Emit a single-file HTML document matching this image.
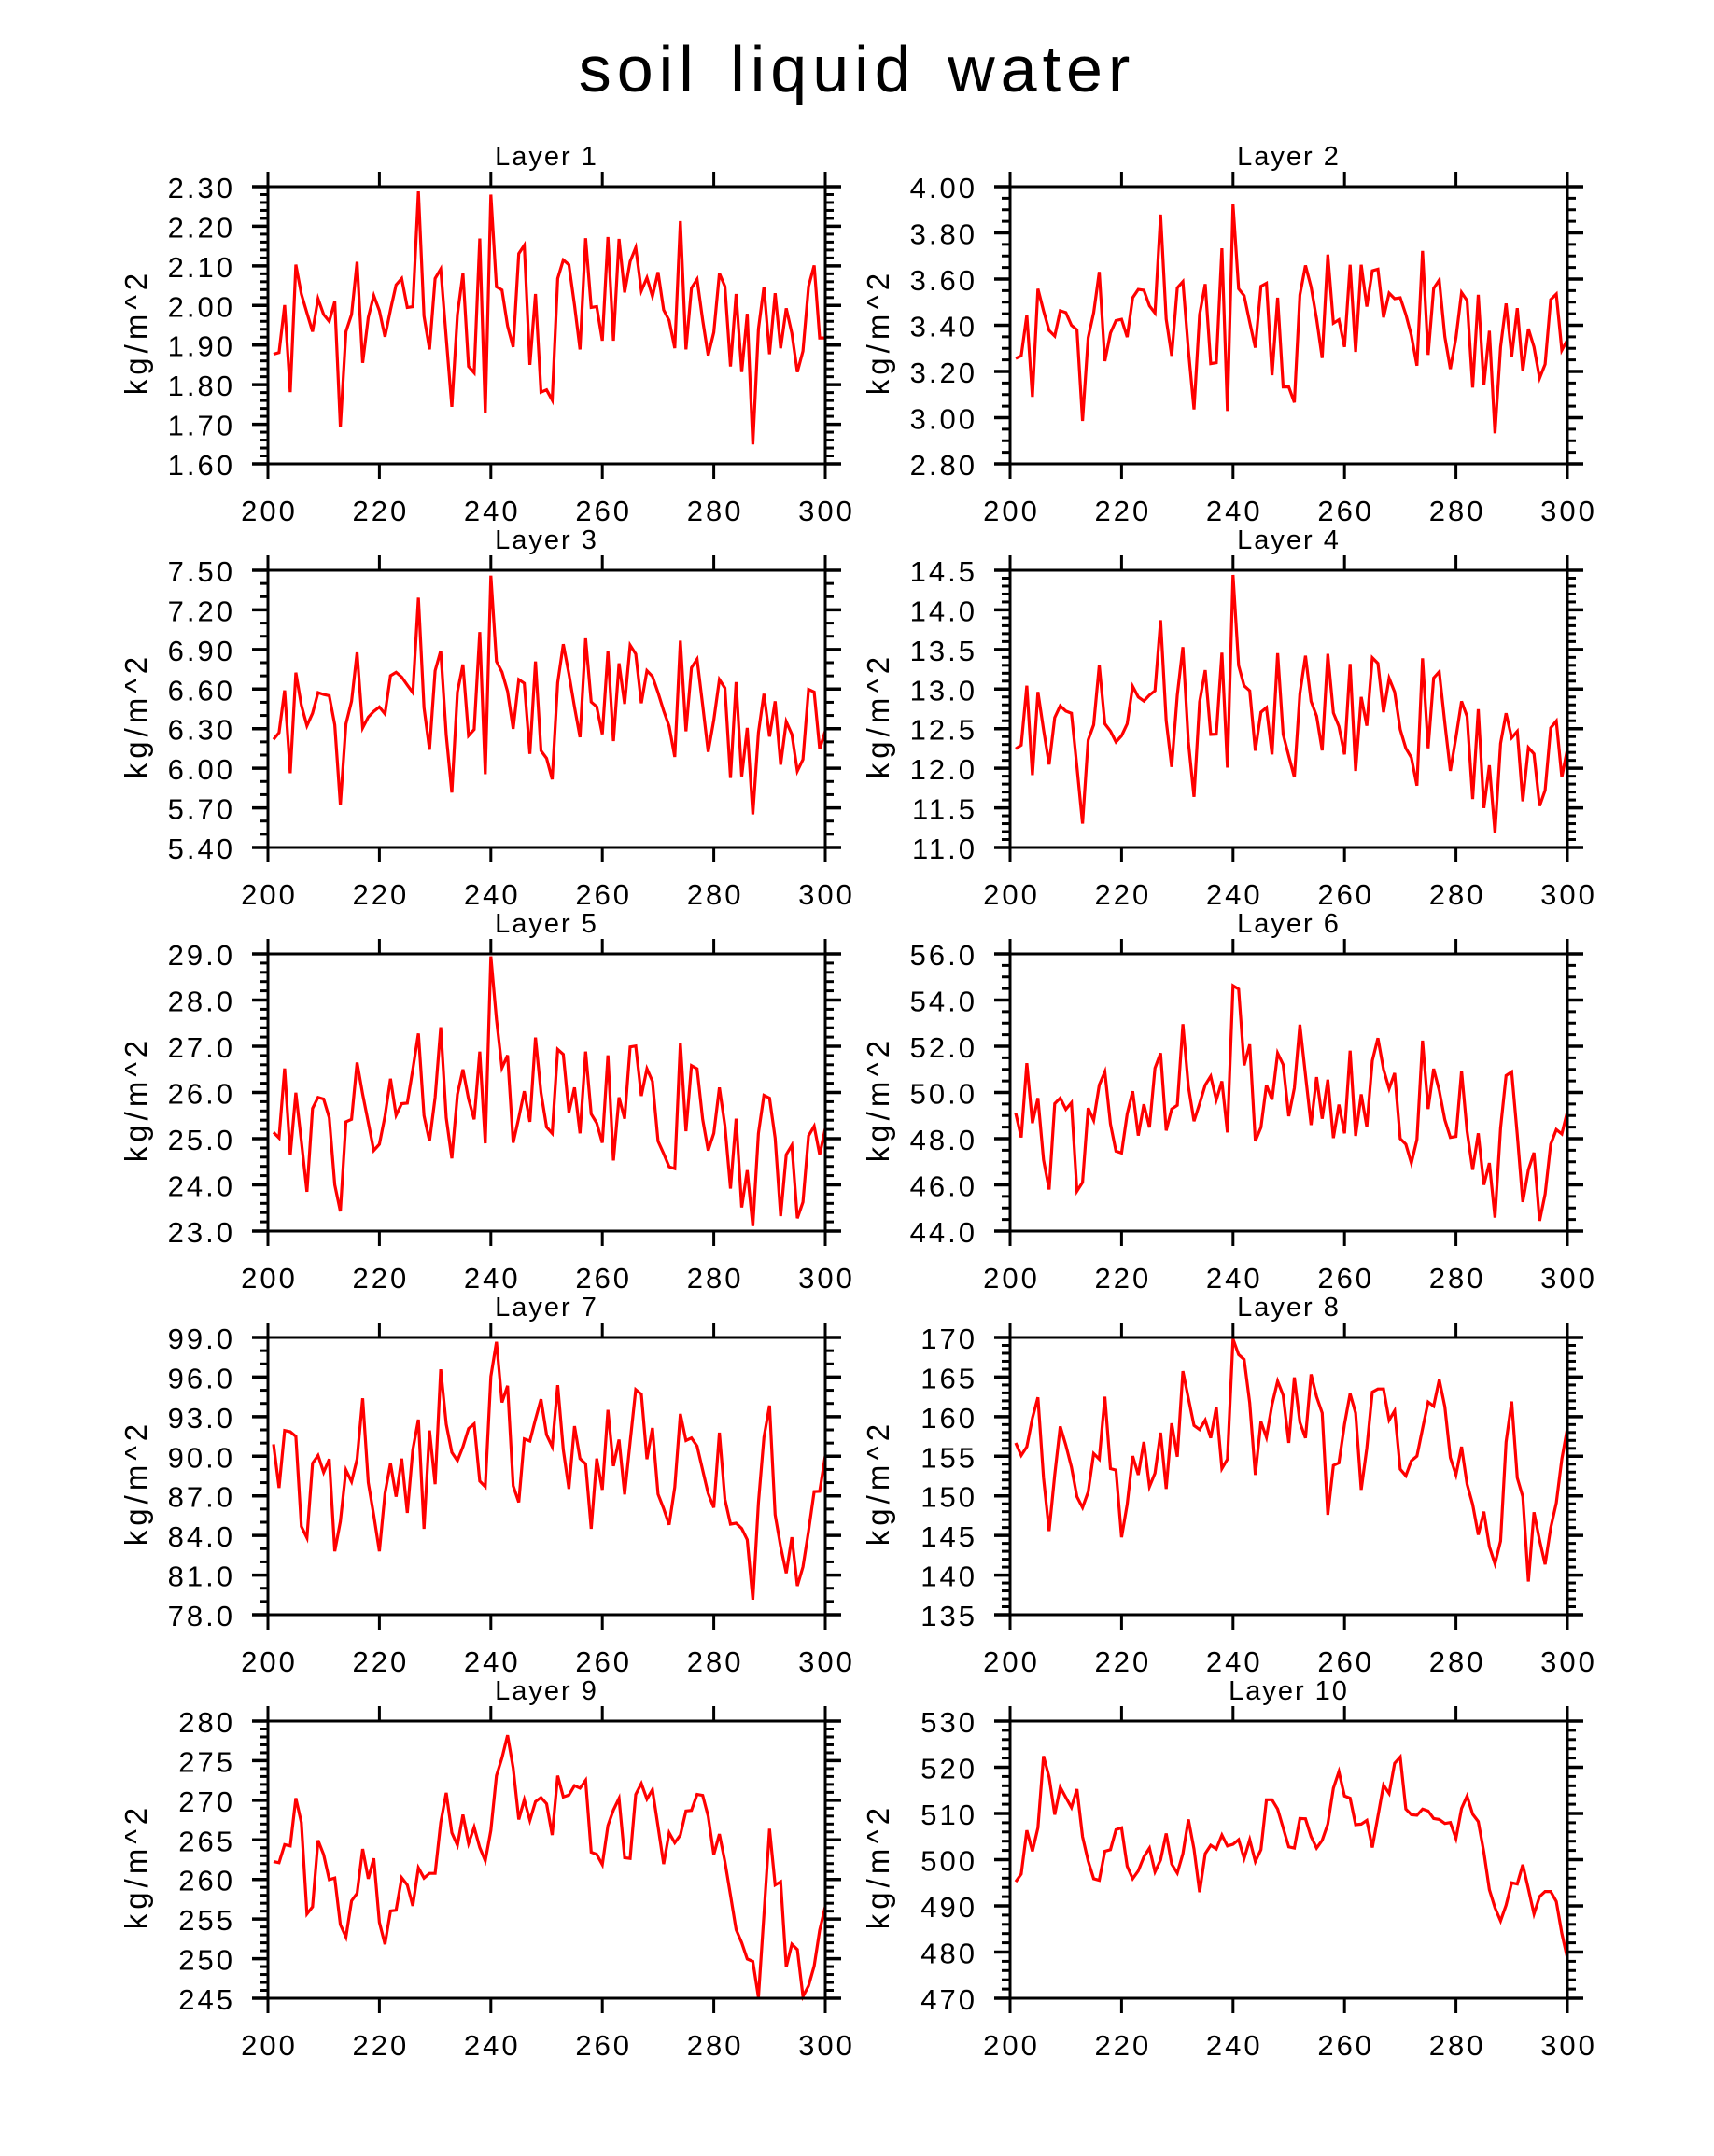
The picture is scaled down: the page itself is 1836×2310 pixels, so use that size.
<!DOCTYPE html>
<html>
<head>
<meta charset="utf-8">
<style>
  html, body { margin: 0; padding: 0; background: #ffffff; }
  svg { display: block; }
  text { font-family: "Liberation Sans", "DejaVu Sans", sans-serif; fill: #000; }
</style>
</head>
<body>
<svg id="chart" xmlns="http://www.w3.org/2000/svg" width="1836" height="2310" viewBox="0 0 1836 2310">
  <rect x="0" y="0" width="1836" height="2310" fill="#ffffff"/>
  <text x="918" y="98" font-size="70" text-anchor="middle" letter-spacing="6" word-spacing="8">soil liquid water</text>
</svg>
<script>
// ---- data ----
const xFirst = 201;
const xTickLabels = ["200", "220", "240", "260", "280", "300"];
const xTickValues = [200, 220, 240, 260, 280, 300];
const xMin = 200;
const xMax = 300;

const layerTitles = ["Layer 1", "Layer 2", "Layer 3", "Layer 4", "Layer 5", "Layer 6", "Layer 7", "Layer 8", "Layer 9", "Layer 10"];

const layer1Values = [1.877,1.881,2.001,1.781,2.103,2.029,1.981,1.934,2.017,1.977,1.960,2.010,1.693,1.934,1.977,2.110,1.855,1.970,2.025,1.987,1.921,1.989,2.052,2.068,1.995,1.997,2.288,1.973,1.889,2.068,2.092,1.918,1.744,1.977,2.081,1.846,1.830,2.169,1.728,2.280,2.047,2.039,1.948,1.895,2.131,2.152,1.850,2.029,1.781,1.787,1.761,2.068,2.115,2.103,2.001,1.889,2.170,1.995,1.997,1.911,2.173,1.911,2.168,2.033,2.111,2.146,2.037,2.070,2.023,2.084,1.989,1.962,1.892,2.213,1.889,2.044,2.066,1.963,1.874,1.932,2.081,2.048,1.846,2.029,1.832,1.979,1.649,1.940,2.047,1.877,2.031,1.892,1.993,1.930,1.832,1.885,2.048,2.101,1.918,1.918];
const layer2Values = [3.256,3.268,3.444,3.090,3.558,3.463,3.377,3.353,3.463,3.455,3.400,3.380,2.986,3.346,3.454,3.631,3.245,3.366,3.420,3.426,3.349,3.519,3.555,3.552,3.484,3.453,3.879,3.427,3.268,3.562,3.589,3.292,3.036,3.447,3.578,3.234,3.238,3.733,3.029,3.923,3.558,3.528,3.413,3.303,3.569,3.582,3.184,3.519,3.133,3.133,3.066,3.531,3.659,3.566,3.427,3.258,3.706,3.409,3.424,3.306,3.662,3.285,3.662,3.481,3.636,3.643,3.434,3.539,3.515,3.519,3.447,3.356,3.225,3.722,3.272,3.559,3.596,3.350,3.211,3.346,3.542,3.507,3.130,3.532,3.140,3.376,2.932,3.306,3.494,3.265,3.474,3.202,3.385,3.306,3.171,3.231,3.511,3.535,3.292,3.337];
const layer3Values = [6.218,6.270,6.590,5.963,6.724,6.478,6.322,6.417,6.573,6.559,6.549,6.329,5.722,6.336,6.507,6.878,6.306,6.388,6.431,6.464,6.412,6.701,6.727,6.691,6.630,6.573,7.292,6.459,6.140,6.739,6.890,6.251,5.816,6.578,6.786,6.247,6.294,7.032,5.956,7.460,6.809,6.729,6.582,6.299,6.672,6.644,6.109,6.809,6.133,6.076,5.916,6.649,6.940,6.715,6.464,6.235,6.984,6.502,6.467,6.258,6.885,6.206,6.795,6.488,6.932,6.866,6.493,6.739,6.696,6.573,6.436,6.318,6.086,6.966,6.280,6.762,6.826,6.478,6.124,6.365,6.672,6.608,5.927,6.653,5.939,6.306,5.651,6.270,6.564,6.240,6.507,6.027,6.353,6.258,5.979,6.067,6.597,6.578,6.145,6.282];
const layer4Values = [12.246,12.293,13.042,11.914,12.963,12.490,12.048,12.640,12.789,12.722,12.695,12.017,11.300,12.356,12.549,13.302,12.561,12.470,12.332,12.411,12.561,13.034,12.900,12.849,12.923,12.979,13.869,12.600,12.017,12.923,13.530,12.332,11.639,12.837,13.239,12.427,12.431,13.459,12.009,14.441,13.298,13.042,12.979,12.222,12.707,12.766,12.175,13.452,12.427,12.155,11.887,12.943,13.420,12.845,12.659,12.226,13.444,12.699,12.529,12.175,13.318,11.966,12.900,12.537,13.396,13.325,12.707,13.136,12.963,12.490,12.253,12.135,11.780,13.389,12.253,13.140,13.219,12.569,11.966,12.391,12.845,12.655,11.611,12.746,11.497,12.037,11.189,12.313,12.695,12.383,12.466,11.583,12.261,12.182,11.524,11.721,12.510,12.596,11.887,12.242];
const layer5Values = [25.135,25.014,26.520,24.642,25.993,24.946,23.851,25.655,25.892,25.858,25.453,24.000,23.426,25.365,25.419,26.649,25.959,25.351,24.743,24.878,25.486,26.297,25.507,25.757,25.770,26.500,27.277,25.500,24.946,25.892,27.412,25.453,24.574,25.959,26.500,25.858,25.419,26.885,24.899,28.946,27.581,26.534,26.804,24.912,25.453,26.027,25.365,27.189,25.993,25.250,25.115,26.932,26.824,25.568,26.108,25.115,26.885,25.534,25.338,24.912,26.804,24.527,25.892,25.432,26.986,27.007,25.926,26.514,26.243,24.946,24.676,24.392,24.351,27.074,25.162,26.581,26.514,25.419,24.743,25.115,26.108,25.284,23.919,25.432,23.514,24.318,23.108,25.115,25.939,25.878,25.014,23.324,24.655,24.858,23.277,23.628,25.061,25.270,24.655,25.216];
const layer6Values = [49.108,48.054,51.270,48.676,49.757,47.081,45.797,49.514,49.757,49.270,49.554,45.730,46.108,49.324,48.797,50.324,50.892,48.635,47.459,47.378,49.068,50.054,48.135,49.486,48.486,51.054,51.703,48.351,49.284,49.446,52.959,50.257,48.757,49.514,50.324,50.703,49.676,50.486,48.270,54.622,54.473,51.176,52.081,47.892,48.486,50.324,49.689,51.703,51.203,48.973,50.189,52.932,50.757,48.595,50.662,48.865,50.554,48.027,49.473,48.230,51.811,48.122,49.919,48.514,51.378,52.351,51.000,50.162,50.838,48.000,47.757,46.946,47.959,52.243,49.284,51.027,50.081,48.811,48.054,48.095,50.932,48.324,46.649,48.230,46.000,46.946,44.581,48.459,50.730,50.892,48.162,45.257,46.649,47.392,44.446,45.595,47.757,48.392,48.203,49.176];
const layer7Values = [90.912,87.601,91.953,91.858,91.503,84.692,83.817,89.469,90.061,88.784,89.777,82.800,85.047,88.949,88.074,89.777,94.388,88.003,85.520,82.800,87.176,89.469,86.939,89.824,85.709,90.486,92.780,84.503,91.953,87.885,96.588,92.426,90.297,89.659,90.723,92.095,92.449,88.121,87.696,96.044,98.669,94.081,95.334,87.767,86.513,91.314,91.149,92.804,94.317,91.622,90.723,95.382,90.486,87.530,92.284,89.824,89.422,84.503,89.824,87.459,93.513,89.257,91.267,87.105,91.078,95.051,94.696,89.777,92.142,87.128,86.040,84.811,87.649,93.206,91.196,91.385,90.770,88.949,87.176,86.111,91.787,86.750,84.858,84.929,84.527,83.675,79.135,86.466,91.432,93.845,85.567,83.155,81.145,83.865,80.175,81.618,84.338,87.317,87.341,90.013];
const layer8Values = [156.678,155.102,156.205,159.831,162.433,152.264,145.563,152.658,158.767,156.402,153.643,149.899,148.519,150.490,155.338,154.629,162.511,153.446,153.249,144.775,148.914,155.023,152.658,156.796,151.160,152.855,157.979,150.884,159.161,154.944,165.743,162.314,158.885,158.373,159.555,157.309,161.211,153.446,154.629,169.803,167.832,167.241,161.723,152.658,159.358,157.388,161.526,164.482,162.708,156.678,164.955,159.279,157.309,165.349,162.511,160.462,147.613,153.840,154.156,159.043,162.905,160.462,150.766,156.008,163.103,163.497,163.497,159.555,160.738,153.367,152.540,154.431,155.023,158.491,161.841,161.329,164.679,161.250,154.826,152.658,156.205,151.475,148.914,145.090,148.007,143.593,141.425,144.302,156.796,161.920,152.264,149.899,139.178,147.928,144.381,141.346,145.957,149.111,154.629,158.570];
const layer9Values = [262.264,262.106,264.392,264.234,270.265,267.190,255.642,256.549,264.944,263.131,259.978,260.175,254.302,252.726,257.298,258.243,263.840,260.096,262.658,254.578,251.819,256.036,256.115,260.214,259.308,256.667,261.475,260.175,260.766,260.766,267.190,270.935,265.890,264.313,268.176,264.550,266.599,264.037,262.343,266.205,273.103,275.349,278.226,274.088,267.585,270.068,267.466,269.831,270.344,269.555,265.614,273.103,270.422,270.659,271.841,271.526,272.511,263.446,263.171,261.870,266.796,268.767,270.225,262.737,262.658,270.738,272.117,270.146,271.329,266.678,261.948,265.890,264.629,265.614,268.649,268.728,270.738,270.619,267.979,263.131,265.732,262.264,258.007,253.671,252.016,249.967,249.651,245.119,255.563,266.402,259.308,259.702,248.942,251.819,251.149,245.237,246.577,249.060,253.593,256.549];
const layer10Values = [495.203,496.892,506.351,501.824,506.892,522.432,517.838,509.730,515.676,513.446,511.284,515.270,505.000,499.730,495.878,495.541,501.824,502.162,506.486,506.892,498.581,495.878,497.568,500.608,502.500,497.365,499.932,505.676,499.054,497.094,501.284,508.716,502.297,492.973,501.284,503.108,502.297,505.338,502.973,503.311,504.324,500.270,504.324,499.595,502.162,512.973,512.973,510.946,506.892,502.770,502.500,508.919,508.851,505.000,502.500,504.189,507.703,515.473,519.054,513.784,513.311,507.568,507.703,508.513,502.635,509.392,516.149,514.324,520.878,522.230,510.946,509.730,509.595,510.946,510.541,508.919,508.716,507.838,508.041,504.595,511.081,513.784,509.865,508.243,501.622,493.514,489.595,486.757,490.135,495.000,494.730,498.919,493.649,488.243,492.027,493.108,493.108,490.946,484.054,478.649];

const yTicks1 = ["1.60","1.70","1.80","1.90","2.00","2.10","2.20","2.30"];
const yTicks2 = ["2.80","3.00","3.20","3.40","3.60","3.80","4.00"];
const yTicks3 = ["5.40","5.70","6.00","6.30","6.60","6.90","7.20","7.50"];
const yTicks4 = ["11.0","11.5","12.0","12.5","13.0","13.5","14.0","14.5"];
const yTicks5 = ["23.0","24.0","25.0","26.0","27.0","28.0","29.0"];
const yTicks6 = ["44.0","46.0","48.0","50.0","52.0","54.0","56.0"];
const yTicks7 = ["78.0","81.0","84.0","87.0","90.0","93.0","96.0","99.0"];
const yTicks8 = ["135","140","145","150","155","160","165","170"];
const yTicks9 = ["245","250","255","260","265","270","275","280"];
const yTicks10 = ["470","480","490","500","510","520","530"];

const minorPerMajor = [5, 4, 3, 5, 5, 4, 3, 5, 5, 5];

const allValues = [layer1Values, layer2Values, layer3Values, layer4Values, layer5Values, layer6Values, layer7Values, layer8Values, layer9Values, layer10Values];
const allTicks = [yTicks1, yTicks2, yTicks3, yTicks4, yTicks5, yTicks6, yTicks7, yTicks8, yTicks9, yTicks10];

// ---- drawing ----
const NS = "http://www.w3.org/2000/svg";
const svg = document.getElementById("chart");
const BOX_W = 597, BOX_H = 297;

function mk(tag, parent) {
  const el = document.createElementNS(NS, tag);
  parent.appendChild(el);
  return el;
}
function line(parent, x1, y1, x2, y2, w) {
  const l = mk("line", parent);
  l.setAttribute("x1", x1); l.setAttribute("y1", y1);
  l.setAttribute("x2", x2); l.setAttribute("y2", y2);
  l.setAttribute("stroke", "#000");
  l.setAttribute("stroke-width", w);
  return l;
}

for (let p = 0; p < 10; p++) {
  const col = p % 2, row = Math.floor(p / 2);
  const bx = col === 0 ? 287 : 1082;
  const by = 200 + 411 * row;
  const ticks = allTicks[p];
  const yMin = parseFloat(ticks[0]);
  const yMax = parseFloat(ticks[ticks.length - 1]);
  const xScale = v => bx + (v - xMin) / (xMax - xMin) * BOX_W;
  const yScale = v => by + BOX_H - (v - yMin) / (yMax - yMin) * BOX_H;

  const g = mk("g", svg);
  
  

  const title = mk("text", g);
  
  
  title.setAttribute("x", bx + BOX_W / 2);
  title.setAttribute("y", by - 23);
  title.setAttribute("font-size", "29");
  title.setAttribute("letter-spacing", "2");
  title.setAttribute("text-anchor", "middle");
  title.textContent = layerTitles[p];

  // series line
  const pts = allValues[p].map((v, i) => xScale(xFirst + i).toFixed(1) + "," + yScale(v).toFixed(1)).join(" ");
  const pl = mk("polyline", g);
  
  
  pl.setAttribute("points", pts);
  pl.setAttribute("fill", "none");
  pl.setAttribute("stroke", "#ff0000");
  pl.setAttribute("stroke-width", "3.2");
  pl.setAttribute("stroke-linejoin", "miter");

  // box
  const box = mk("rect", g);
  
  
  box.setAttribute("x", bx); box.setAttribute("y", by);
  box.setAttribute("width", BOX_W); box.setAttribute("height", BOX_H);
  box.setAttribute("fill", "none");
  box.setAttribute("stroke", "#000");
  box.setAttribute("stroke-width", "3");

  // x ticks and labels
  for (let t = 0; t < xTickValues.length; t++) {
    const x = xScale(xTickValues[t]);
    const tt = line(g, x, by, x, by - 16, 3);
    
    
    const tb = line(g, x, by + BOX_H, x, by + BOX_H + 16, 3);
    
    
    const lb = mk("text", g);
    
    
    lb.setAttribute("x", x + 1.5);
    lb.setAttribute("y", by + BOX_H + 61);
    lb.setAttribute("font-size", "31");
    lb.setAttribute("letter-spacing", "3");
    lb.setAttribute("text-anchor", "middle");
    lb.textContent = xTickLabels[t];
  }

  // y ticks and labels
  const nMaj = ticks.length;
  const m = minorPerMajor[p];
  for (let t = 0; t < nMaj; t++) {
    const v = parseFloat(ticks[t]);
    const y = yScale(v);
    const tl = line(g, bx - 17, y, bx, y, 3.5);
    
    
    const tr = line(g, bx + BOX_W, y, bx + BOX_W + 17, y, 3.5);
    
    
    const lb = mk("text", g);
    
    
    lb.setAttribute("x", bx - 35);
    lb.setAttribute("y", y + 12);
    lb.setAttribute("font-size", "31");
    lb.setAttribute("letter-spacing", "3");
    lb.setAttribute("text-anchor", "end");
    lb.textContent = ticks[t];
    if (t < nMaj - 1) {
      const step = (parseFloat(ticks[t + 1]) - v) / m;
      for (let k = 1; k < m; k++) {
        const ym = yScale(v + step * k);
        const ml = line(g, bx - 9, ym, bx, ym, 3);
        
        
        const mr = line(g, bx + BOX_W, ym, bx + BOX_W + 9, ym, 3);
        
        
      }
    }
  }

  // y axis title
  const yt = mk("text", g);
  
  
  const cx = bx - 130, cy = by + BOX_H / 2 + 7;
  yt.setAttribute("x", cx);
  yt.setAttribute("y", cy);
  yt.setAttribute("font-size", "33");
  yt.setAttribute("letter-spacing", "5");
  yt.setAttribute("text-anchor", "middle");
  yt.setAttribute("transform", "rotate(-90 " + cx + " " + cy + ")");
  yt.textContent = "kg/m^2";
}
</script>
</body>
</html>
